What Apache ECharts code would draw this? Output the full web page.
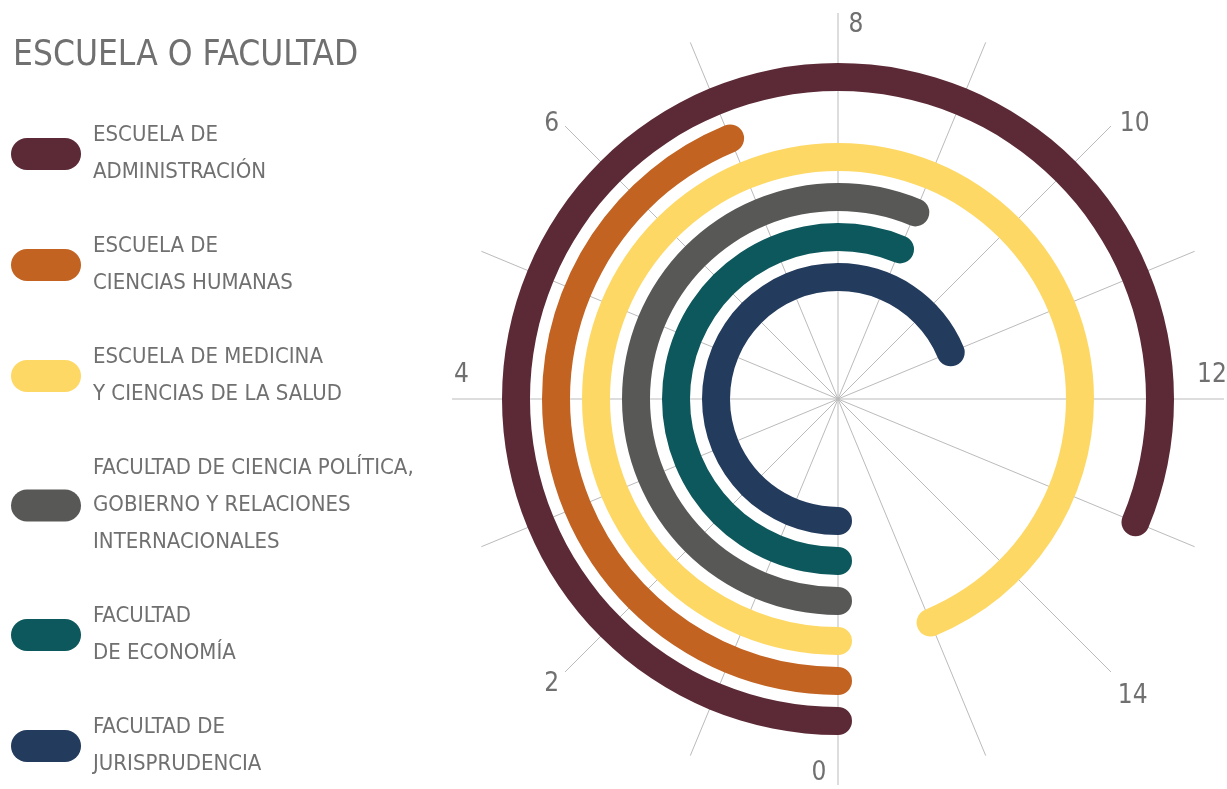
<!DOCTYPE html>
<html>
<head>
<meta charset="utf-8">
<title>Escuela o facultad</title>
<script src="https://cdn.jsdelivr.net/npm/echarts@6/dist/echarts.min.js"></script>
<style>
    html, body { margin: 0; padding: 0; background: #ffffff; }
    #chart { width: 1227px; height: 789px; }
</style>
</head>
<body>
<div id="chart"></div>
<script>
// schools, from the outer ring to the inner one (same order as the legend)
const schools = [
    "ESCUELA DE\nADMINISTRACIÓN",
    "ESCUELA DE\nCIENCIAS HUMANAS",
    "ESCUELA DE MEDICINA\nY CIENCIAS DE LA SALUD",
    "FACULTAD DE CIENCIA POLÍTICA,\nGOBIERNO Y RELACIONES\nINTERNACIONALES",
    "FACULTAD\nDE ECONOMÍA",
    "FACULTAD DE\nJURISPRUDENCIA"
]
const values = [13, 7, 15, 9, 9, 11]
const colors = ["#5c2a36", "#c26322", "#fed865", "#585856", "#0c585c", "#233b5d"]

// angle scale
const angleMin = 0
const angleMax = 16
const labelEvery = 2

const textFont = "'Liberation Sans Narrow', 'DejaVu Sans Condensed', sans-serif"
const textGrey = "#707070"
const center = [838, 399]

// pill shaped legend icon
const pillIcon = "path://M16,0 L54,0 A16,16 0 0 1 54,32 L16,32 A16,16 0 0 1 16,0 Z"

// each tick label is nudged a bit off its split line, like in the original
const labelRich = {
    l0: { padding: [2, 38, 0, 0] },
    l2: { padding: [18, 25, 0, 0] },
    l4: { padding: [0, 10, 48, 0] },
    l6: { padding: [0, 25, 8, 0] },
    l8: { padding: [0, 0, 2, 36] },
    l10: { padding: [0, 0, 8, 28] },
    l12: { padding: [0, 0, 48, 0] },
    l14: { padding: [30, 0, 0, 26] }
}

const makeSeries = () => {
    return schools.map((name, i) => {
        return {
            name: name,
            type: 'bar',
            coordinateSystem: 'polar',
            polarIndex: 1,
            data: schools.map((s, j) => j === i ? values[i] : null),
            barCategoryGap: '30%',
            barGap: '-100%',
            roundCap: true,
            itemStyle: { color: colors[i] },
            emphasis: { disabled: true },
            z: 3
        }
    })
}

const option = {
    animation: false,
    backgroundColor: '#ffffff',
    title: {
        text: 'ESCUELA O FACULTAD',
        left: 8,
        top: 33,
        textStyle: {
            fontFamily: textFont,
            fontSize: 35,
            fontWeight: 'normal',
            color: textGrey
        }
    },
    legend: {
        orient: 'vertical',
        left: 11,
        top: 117,
        bottom: 0,
        padding: 0,
        itemWidth: 70,
        itemHeight: 32,
        itemGap: 37,
        icon: pillIcon,
        selectedMode: false,
        data: schools,
        textStyle: {
            fontFamily: textFont,
            fontSize: 22,
            lineHeight: 37,
            color: textGrey,
            padding: [0, 0, 0, 7]
        }
    },
    polar: [
        { center: center, radius: [0, 386] },
        { center: center, radius: [102, 342] }
    ],
    angleAxis: [
        {
            polarIndex: 0,
            type: 'value',
            min: angleMin,
            max: angleMax,
            interval: 1,
            startAngle: 270,
            clockwise: true,
            axisLine: { show: false },
            axisTick: { show: false },
            splitLine: { show: true, lineStyle: { color: '#bbbbbb', width: 1 } },
            axisLabel: {
                show: true,
                margin: -27,
                fontFamily: textFont,
                fontSize: 26,
                color: textGrey,
                formatter: v => v % labelEvery === 0 ? '{l' + v + '|' + v + '}' : '',
                rich: labelRich
            }
        },
        {
            polarIndex: 1,
            type: 'value',
            min: angleMin,
            max: angleMax,
            startAngle: 270,
            clockwise: true,
            show: false
        }
    ],
    radiusAxis: [
        { polarIndex: 0, type: 'value', show: false },
        {
            polarIndex: 1,
            type: 'category',
            data: schools,
            inverse: true,
            show: false
        }
    ],
    series: makeSeries()
}

const chart = echarts.init(document.getElementById('chart'))
chart.setOption(option)
</script>
</body>
</html>
